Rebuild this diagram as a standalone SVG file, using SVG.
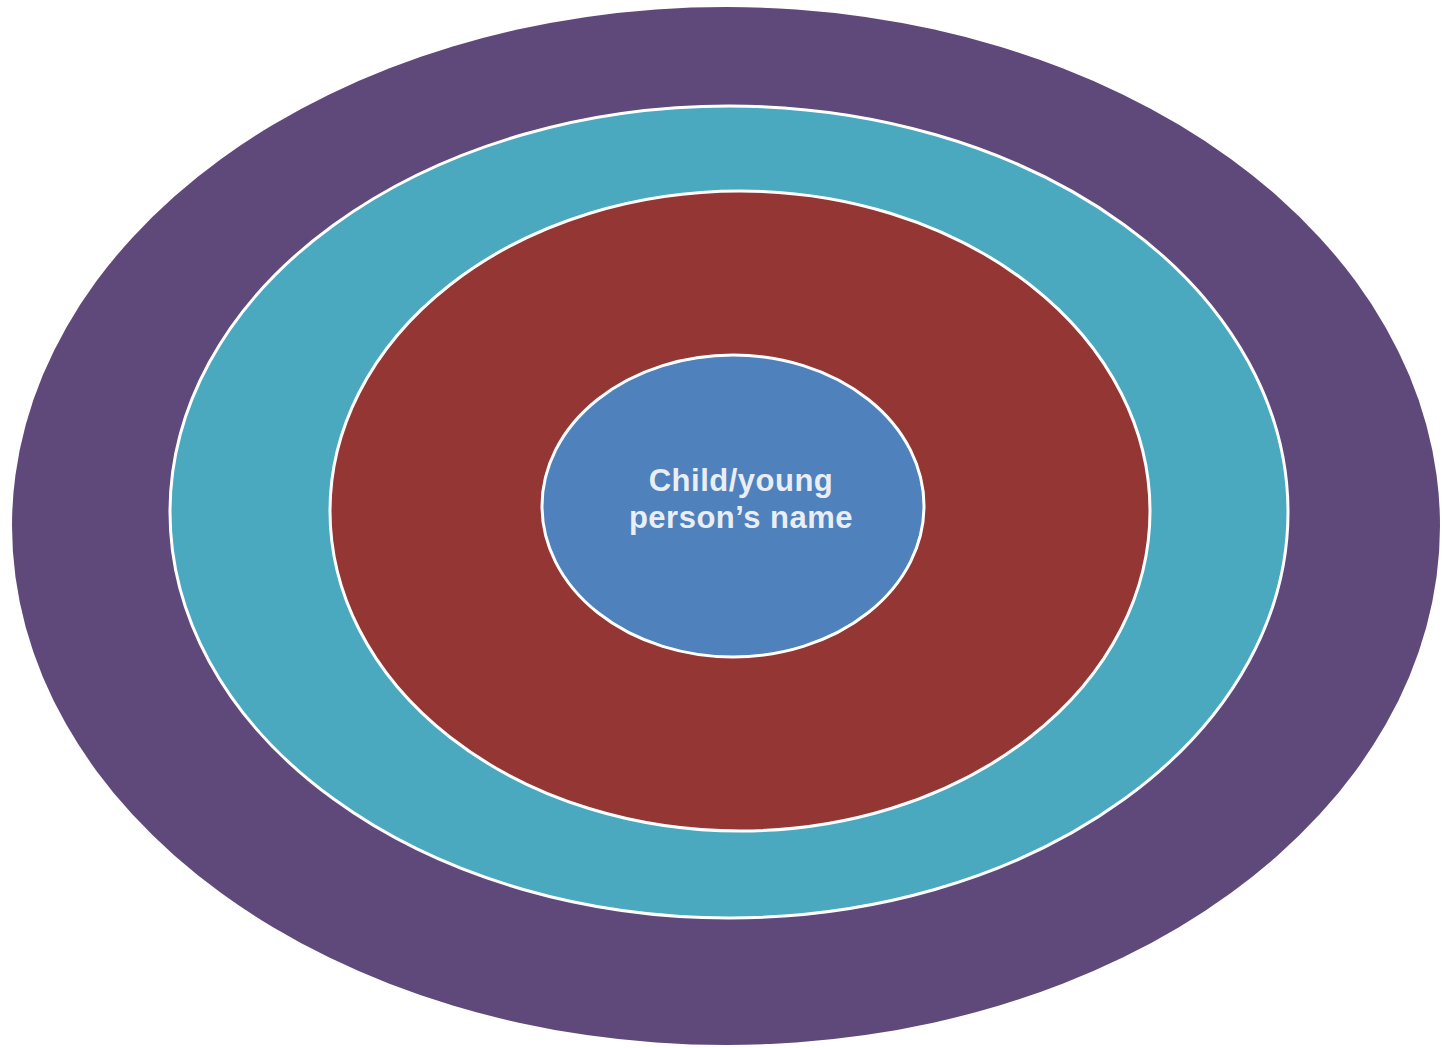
<svg xmlns="http://www.w3.org/2000/svg" width="1452" height="1048" viewBox="0 0 1452 1048">
<style>
.ring{stroke:#ffffff;stroke-width:3}
.lbl{font-family:"Liberation Sans",Arial,sans-serif;font-weight:bold;font-size:31px;letter-spacing:0.5px;fill:#eaeef4;text-anchor:middle}
</style>
<rect width="1452" height="1048" fill="#ffffff"/>
<g id="outer"><ellipse cx="726" cy="526" rx="714" ry="519" fill="#5f497a"/></g>
<g id="teal"><ellipse class="ring" cx="729" cy="512" rx="559" ry="406" fill="#4aa9bf"/></g>
<g id="red"><ellipse class="ring" cx="740" cy="511" rx="410" ry="320" fill="#943634"/></g>
<g id="center"><ellipse class="ring" cx="733" cy="506" rx="191" ry="151" fill="#4f81bd"/>
<text class="lbl" x="741" y="491">Child/young</text>
<text class="lbl" x="741" y="528">person’s name</text></g>
<g id="connectors"></g>
</svg>
